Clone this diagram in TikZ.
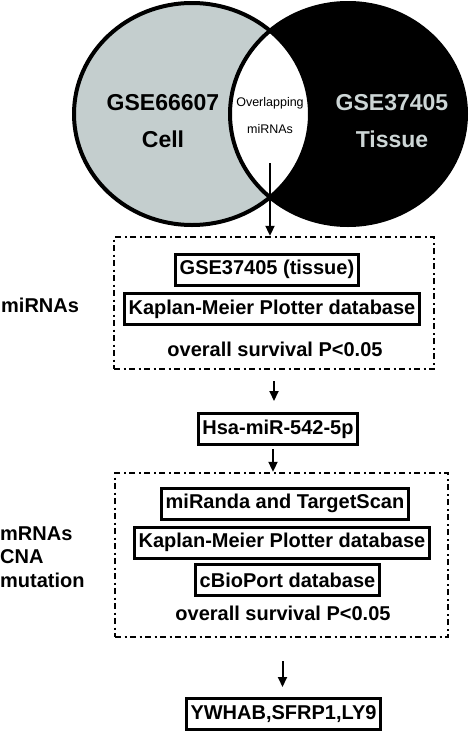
\documentclass[tikz,border=0pt]{standalone}
\usepackage{fontspec}
\setmainfont{Liberation Sans}
\usetikzlibrary{arrows.meta}

\definecolor{venngray}{RGB}{196,206,206}
\definecolor{tissuegray}{RGB}{205,214,214}

\begin{document}
\begin{tikzpicture}[x=1pt, y=-1pt,
        sbox/.style={draw, line width=3pt, inner xsep=4pt, inner ysep=0pt, minimum height=31pt,
            font=\fontsize{20}{24}\selectfont\bfseries},
        stage/.style={draw, line width=2.4pt, dash pattern=on 6pt off 3.5pt on 2pt off 3.5pt},
        plain/.style={inner sep=0pt, font=\fontsize{20}{23.5}\selectfont\bfseries},
        flow/.style={line width=2pt, -{Triangle[width=9pt, length=10pt]}}]
    \useasboundingbox (0, 0) rectangle (473, 731);

    % venn diagram
    \fill[venngray] (192, 114) ellipse [x radius=118pt, y radius=111pt];
    \fill[black] (348, 114) ellipse [x radius=118pt, y radius=111pt];
    \begin{scope}
        \clip (192, 114) ellipse [x radius=118pt, y radius=111pt];
        \fill[white] (348, 114) ellipse [x radius=118pt, y radius=111pt];
    \end{scope}
    \draw[line width=4pt] (192, 114) ellipse [x radius=118pt, y radius=111pt];
    \draw[line width=4pt] (348, 114) ellipse [x radius=118pt, y radius=111pt];

    \node[align=center, inner sep=0pt, font=\fontsize{23}{37}\selectfont\bfseries] (cell) at (163, 121.5) {GSE66607\\Cell};
    \node[align=center, inner sep=0pt, text=tissuegray, font=\fontsize{23}{37}\selectfont\bfseries] (tissue) at (392, 121.5) {GSE37405\\Tissue};
    \node[align=center, inner sep=0pt, font=\fontsize{12.5}{27}\selectfont] (overlap) at (270, 116) {Overlapping\\miRNAs};
    \coordinate (lens) at (270, 163);

    % first filter
    \node[stage, minimum width=320pt, minimum height=132pt] (stage1) at (274, 303) {};
    \node[sbox] (tissuebox) at (267, 269.5) {GSE37405 (tissue)};
    \node[sbox] (kmplot1) at (272, 309) {Kaplan-Meier Plotter database};
    \node[plain] (os1) at (275, 349) {overall survival P<0.05};
    \node[plain, anchor=west] (mirlabel) at (1, 305) {miRNAs};

    \node[sbox] (hsa) at (278, 429) {Hsa-miR-542-5p};

    % second filter
    \node[stage, minimum width=333pt, minimum height=164pt] (stage2) at (281.5, 555) {};
    \node[sbox] (targets) at (285, 503.5) {miRanda and TargetScan};
    \node[sbox] (kmplot2) at (282, 542.5) {Kaplan-Meier Plotter database};
    \node[sbox] (cbio) at (287.5, 580) {cBioPort database};
    \node[plain] (os2) at (283, 613) {overall survival P<0.05};
    \node[plain, anchor=west, align=left] (mrnalabel) at (0, 557) {mRNAs\\CNA\\mutation};

    \node[sbox] (genes) at (283.5, 714) {YWHAB,SFRP1,LY9};

    \draw[flow] (lens) -- (lens |- stage1.north);
    \draw[flow, shorten <=11pt, shorten >=11pt] (stage1.south) -- (stage1.south |- hsa.north);
    \draw[flow, shorten <=3pt] ([xshift=-5pt]hsa.south) -- ([xshift=-5pt]hsa.south |- stage2.north);
    \draw[flow, shorten <=23pt, shorten >=10pt] ([xshift=-1pt]genes.north |- stage2.south) -- ([xshift=-1pt]genes.north);
\end{tikzpicture}
\end{document}
